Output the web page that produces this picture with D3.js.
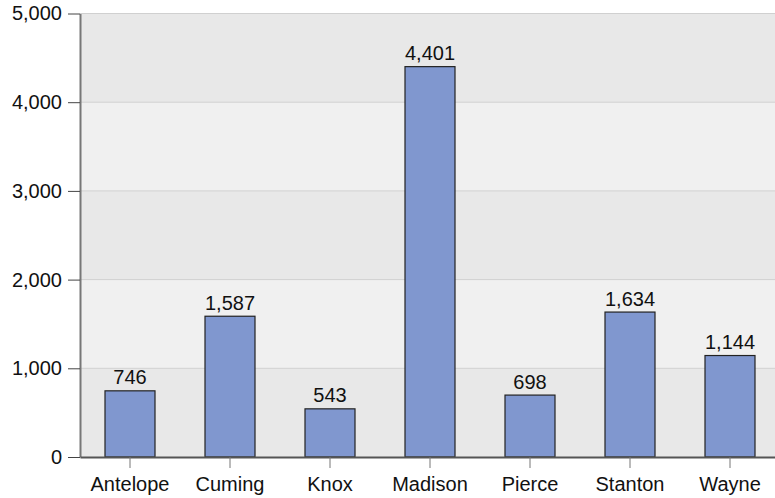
<!DOCTYPE html>
<html>
<head>
<meta charset="utf-8">
<style>
  body {margin: 0; background: white;}
  text {font-family: "Liberation Sans", Arial, sans-serif; fill: #111;}
</style>
</head>
<body>
<svg id="svg" width="775" height="498"></svg>
<script src="https://d3js.org/d3.v7.min.js"></script>
<script>
var counties = ["Antelope", "Cuming", "Knox", "Madison", "Pierce", "Stanton", "Wayne"];
var values = [746, 1587, 543, 4401, 698, 1634, 1144];
var yTicks = [0, 1000, 2000, 3000, 4000, 5000];

var margin = {top: 13.5, left: 80, bottom: 41},
    width = 700,
    height = 498 - margin.top - margin.bottom;

var svg = d3.select("#svg");
var g = svg.append("g").attr("transform", "translate(" + margin.left + "," + margin.top + ")");

var x = d3.scaleBand().domain(counties).range([0, width]).paddingInner(0.5).paddingOuter(0.25);
var y = d3.scaleLinear().domain([0, 5000]).range([height, 0]);

// alternating bands
g.selectAll("rect.band")
  .data(yTicks.slice(0, -1))
  .enter().append("rect")
  .attr("class", "band")
  .attr("x", 0)
  .attr("width", width)
  .attr("y", function(d) { return y(d + 1000); })
  .attr("height", function(d) { return y(d) - y(d + 1000); })
  .attr("fill", function(d, i) { return i % 2 == 0 ? "#e8e8e8" : "#f0f0f0"; });

// grid lines
g.selectAll("line.grid")
  .data(yTicks.slice(1))
  .enter().append("line")
  .attr("class", "grid")
  .attr("x1", 0).attr("x2", width)
  .attr("y1", function(d) { return y(d); })
  .attr("y2", function(d) { return y(d); })
  .attr("stroke", "#d0d0d0");

// bars
g.selectAll("rect.bar")
  .data(values)
  .enter().append("rect")
  .attr("class", "bar")
  .attr("x", function(d, i) { return x(counties[i]); })
  .attr("width", x.bandwidth())
  .attr("y", function(d) { return y(d); })
  .attr("height", function(d) { return y(0) - y(d); })
  .attr("fill", "#8097cf")
  .attr("stroke", "#222")
  .attr("stroke-width", 1.2);

// value labels
g.selectAll("text.val")
  .data(values)
  .enter().append("text")
  .attr("class", "val")
  .attr("x", function(d, i) { return x(counties[i]) + x.bandwidth() / 2; })
  .attr("y", function(d) { return y(d) - 6.5; })
  .attr("text-anchor", "middle")
  .style("font-size", "20px")
  .text(function(d) { return d3.format(",")(d); });

// axes
var yAxis = d3.axisLeft(y).tickValues(yTicks).tickFormat(d3.format(",")).tickSize(12).tickSizeOuter(0).tickPadding(6);
var ya = g.append("g").call(yAxis);
ya.selectAll("text").style("font-size", "20px").attr("fill", "#111");
ya.selectAll("line").attr("stroke", "#444");
ya.select(".domain").attr("stroke", "#777").attr("stroke-width", 2);

var xAxis = d3.axisBottom(x).tickSize(11).tickSizeOuter(0).tickPadding(9);
var xa = g.append("g").attr("transform", "translate(0," + height + ")").call(xAxis);
xa.selectAll("text").style("font-size", "20px").attr("fill", "#111");
xa.selectAll("line").attr("stroke", "#777");
xa.select(".domain").attr("stroke", "#555").attr("stroke-width", 2);
</script>
</body>
</html>
